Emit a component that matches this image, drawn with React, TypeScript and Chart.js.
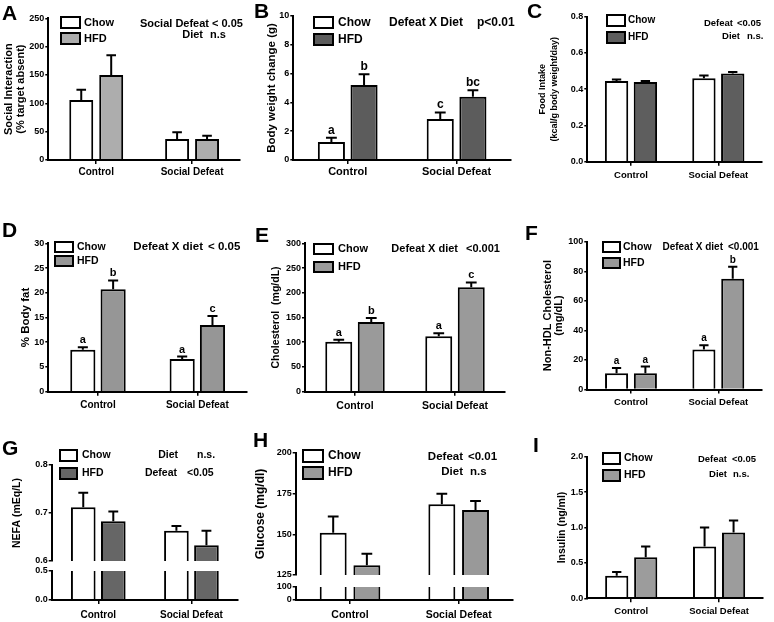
import React, { useEffect, useRef } from 'react';
import { Chart, registerables } from 'chart.js';

Chart.register(...registerables);

const FONT = '"Liberation Sans", Arial, Helvetica, sans-serif';
Chart.defaults.font.family = FONT;
Chart.defaults.color = '#000';

// ---------- data ----------
const categories = ['Control', 'Social Defeat'];
const seriesNames = ['Chow', 'HFD'];

// A: social interaction
const socialTicks = [0, 50, 100, 150, 200, 250];
const socialChow = [106, 37];
const socialChowErr = [18, 12];
const socialHfd = [150, 37];
const socialHfdErr = [35, 6];

// B: body weight change
const weightTicks = [0, 2, 4, 6, 8, 10];
const weightChow = [1.25, 2.85];
const weightChowErr = [0.3, 0.45];
const weightHfd = [5.2, 4.4];
const weightHfdErr = [0.75, 0.45];
const weightChowLetters = ['a', 'c'];
const weightHfdLetters = ['b', 'bc'];

// C: food intake
const foodTicks = [0, 0.2, 0.4, 0.6, 0.8];
const foodChow = [0.445, 0.46];
const foodChowErr = [0.008, 0.016];
const foodHfd = [0.44, 0.486];
const foodHfdErr = [0.005, 0.009];

// D: body fat
const fatTicks = [0, 5, 10, 15, 20, 25, 30];
const fatChow = [8.5, 6.6];
const fatChowErr = [0.5, 0.5];
const fatHfd = [20.7, 13.5];
const fatHfdErr = [1.8, 1.8];
const fatChowLetters = ['a', 'a'];
const fatHfdLetters = ['b', 'c'];

// E: cholesterol
const cholTicks = [0, 50, 100, 150, 200, 250, 300];
const cholChow = [101, 112];
const cholChowErr = [4, 6];
const cholHfd = [141, 211];
const cholHfdErr = [8, 10];
const cholChowLetters = ['a', 'a'];
const cholHfdLetters = ['b', 'c'];

// F: non-HDL cholesterol
const nonHdlTicks = [0, 20, 40, 60, 80, 100];
const nonHdlChow = [11, 27];
const nonHdlChowErr = [3.5, 3];
const nonHdlHfd = [11, 75];
const nonHdlHfdErr = [4.5, 8];
const nonHdlChowLetters = ['a', 'a'];
const nonHdlHfdLetters = ['a', 'b'];

// G: NEFA (broken axis)
const nefaTicks = [0.6, 0.7, 0.8];
const nefaLowerTicks = [0, 0.5];
const nefaChow = [0.712, 0.663];
const nefaChowErr = [0.03, 0.01];
const nefaHfd = [0.683, 0.633];
const nefaHfdErr = [0.02, 0.03];

// H: glucose (broken axis)
const glucoseTicks = [125, 150, 175, 200];
const glucoseLowerTicks = [0, 100];
const glucoseChow = [151, 168.5];
const glucoseChowErr = [10, 6.5];
const glucoseHfd = [131, 165];
const glucoseHfdErr = [7, 5.5];

// I: insulin
const insulinTicks = [0, 0.5, 1, 1.5, 2];
const insulinChow = [0.32, 0.73];
const insulinChowErr = [0.05, 0.27];
const insulinHfd = [0.58, 0.93];
const insulinHfdErr = [0.15, 0.17];

// ---------- panel layout / style ----------
type Note = { text: string; x: number; y: number; right?: boolean };
type Panel = {
  letter: string; letterX: number; letterY: number;
  area: { left: number; top: number; right: number; bottom: number };
  title: string[]; titleSize: number; titleLH: number; titleX: number;
  tickSize: number; catSize: number; catY: number;
  ticks: number[]; lowerTicks?: number[]; weights?: number[]; decimals: number;
  chow: number[]; chowErr: number[]; hfd: number[]; hfdErr: number[];
  chowLetters?: string[]; hfdLetters?: string[]; letterSize?: number;
  hfdColor: string; catPct: number; barPct: number;
  legend: { x: number; y: number; w: number; h: number; step: number; tx: number; size: number };
  notes: Note[]; noteSize: number;
};

const panels: Panel[] = [
  {
    letter: 'A', letterX: 2, letterY: 20,
    area: { left: 48.3, top: 18.3, right: 240, bottom: 160 },
    title: ['Social Interaction', '(% target absent)'], titleSize: 11, titleLH: 1.1, titleX: 9,
    tickSize: 9, catSize: 10, catY: 172, ticks: socialTicks, decimals: 0,
    chow: socialChow, chowErr: socialChowErr, hfd: socialHfd, hfdErr: socialHfdErr,
    hfdColor: '#adadad', catPct: 0.625, barPct: 0.8,
    legend: { x: 61, y: 17, w: 19, h: 11, step: 16, tx: 84, size: 11 },
    notes: [
      { text: 'Social Defeat', x: 209, y: 24, right: true }, { text: '< 0.05', x: 212, y: 24 },
      { text: 'Diet', x: 203, y: 35, right: true }, { text: 'n.s', x: 210, y: 35 },
    ], noteSize: 11,
  },
  {
    letter: 'B', letterX: 254, letterY: 18,
    area: { left: 293.3, top: 16, right: 511, bottom: 160 },
    title: ['Body weight change (g)'], titleSize: 11.5, titleLH: 1.2, titleX: 271.7,
    tickSize: 9, catSize: 11, catY: 172, ticks: weightTicks, decimals: 0,
    chow: weightChow, chowErr: weightChowErr, hfd: weightHfd, hfdErr: weightHfdErr,
    chowLetters: weightChowLetters, hfdLetters: weightHfdLetters, letterSize: 12,
    hfdColor: '#5c5c5c', catPct: 0.6, barPct: 0.83,
    legend: { x: 314, y: 17, w: 19, h: 11, step: 17, tx: 338, size: 12 },
    notes: [{ text: 'Defeat X Diet', x: 463, y: 23, right: true }, { text: 'p<0.01', x: 477, y: 23 }], noteSize: 12,
  },
  {
    letter: 'C', letterX: 527, letterY: 18,
    area: { left: 587.3, top: 16.7, right: 762, bottom: 161.7 },
    title: ['Food Intake', '(kcal/g body weight/day)'], titleSize: 9, titleLH: 1.33, titleX: 543,
    tickSize: 9, catSize: 9.5, catY: 175, ticks: foodTicks, decimals: 1,
    chow: foodChow, chowErr: foodChowErr, hfd: foodHfd, hfdErr: foodHfdErr,
    hfdColor: '#5e5e5e', catPct: 0.66, barPct: 0.81,
    legend: { x: 607, y: 15, w: 18, h: 11, step: 17, tx: 628, size: 10 },
    notes: [
      { text: 'Defeat', x: 733, y: 23, right: true }, { text: '<0.05', x: 737, y: 23 },
      { text: 'Diet', x: 740, y: 36, right: true }, { text: 'n.s.', x: 747, y: 36 },
    ], noteSize: 9.5,
  },
  {
    letter: 'D', letterX: 2, letterY: 237,
    area: { left: 48.3, top: 243.3, right: 247, bottom: 391.7 },
    title: ['% Body fat'], titleSize: 11.5, titleLH: 1.2, titleX: 26,
    tickSize: 9, catSize: 10, catY: 405, ticks: fatTicks, decimals: 0,
    chow: fatChow, chowErr: fatChowErr, hfd: fatHfd, hfdErr: fatHfdErr,
    chowLetters: fatChowLetters, hfdLetters: fatHfdLetters, letterSize: 11,
    hfdColor: '#969696', catPct: 0.61, barPct: 0.83,
    legend: { x: 55, y: 242, w: 18, h: 10, step: 14, tx: 77, size: 10.5 },
    notes: [{ text: 'Defeat X diet', x: 203, y: 247, right: true }, { text: '< 0.05', x: 208, y: 247 }], noteSize: 11.5,
  },
  {
    letter: 'E', letterX: 255, letterY: 242,
    area: { left: 305, top: 243.3, right: 505, bottom: 391.7 },
    title: ['Cholesterol  (mg/dL)'], titleSize: 10.5, titleLH: 1.2, titleX: 276,
    tickSize: 9, catSize: 10.5, catY: 405.7, ticks: cholTicks, decimals: 0,
    chow: cholChow, chowErr: cholChowErr, hfd: cholHfd, hfdErr: cholHfdErr,
    chowLetters: cholChowLetters, hfdLetters: cholHfdLetters, letterSize: 11,
    hfdColor: '#9a9a9a', catPct: 0.65, barPct: 0.83,
    legend: { x: 314, y: 244, w: 19, h: 10, step: 18, tx: 338, size: 11 },
    notes: [{ text: 'Defeat X diet', x: 458, y: 249, right: true }, { text: '<0.001', x: 466, y: 249 }], noteSize: 11,
  },
  {
    letter: 'F', letterX: 525, letterY: 240,
    area: { left: 587.3, top: 241.7, right: 762, bottom: 389.5 },
    title: ['Non-HDL Cholesterol', '(mg/dL)'], titleSize: 11, titleLH: 1.0, titleX: 548,
    tickSize: 9, catSize: 9.5, catY: 402, ticks: nonHdlTicks, decimals: 0,
    chow: nonHdlChow, chowErr: nonHdlChowErr, hfd: nonHdlHfd, hfdErr: nonHdlHfdErr,
    chowLetters: nonHdlChowLetters, hfdLetters: nonHdlHfdLetters, letterSize: 10,
    hfdColor: '#999999', catPct: 0.66, barPct: 0.8,
    legend: { x: 603, y: 242, w: 17, h: 10, step: 16, tx: 623, size: 10.5 },
    notes: [{ text: 'Defeat X diet', x: 723, y: 247, right: true }, { text: '<0.001', x: 728, y: 247 }], noteSize: 10,
  },
  {
    letter: 'G', letterX: 2, letterY: 455,
    area: { left: 51.7, top: 465, right: 238, bottom: 600 },
    title: ['NEFA (mEq/L)'], titleSize: 10.5, titleLH: 1.2, titleX: 17.5,
    tickSize: 9, catSize: 10, catY: 615, ticks: nefaTicks, lowerTicks: nefaLowerTicks, weights: [96, 10, 29], decimals: 1,
    chow: nefaChow, chowErr: nefaChowErr, hfd: nefaHfd, hfdErr: nefaHfdErr,
    hfdColor: '#666666', catPct: 0.645, barPct: 0.82,
    legend: { x: 60, y: 450, w: 17, h: 11, step: 18, tx: 82, size: 10.5 },
    notes: [
      { text: 'Diet', x: 178, y: 455, right: true }, { text: 'n.s.', x: 197, y: 455 },
      { text: 'Defeat', x: 177, y: 473, right: true }, { text: '<0.05', x: 187, y: 473 },
    ], noteSize: 10.5,
  },
  {
    letter: 'H', letterX: 253, letterY: 447,
    area: { left: 295.7, top: 453, right: 513, bottom: 600 },
    title: ['Glucose (mg/dl)'], titleSize: 12, titleLH: 1.2, titleX: 261,
    tickSize: 9, catSize: 10.5, catY: 615, ticks: glucoseTicks, lowerTicks: glucoseLowerTicks, weights: [122, 12, 13], decimals: 0,
    chow: glucoseChow, chowErr: glucoseChowErr, hfd: glucoseHfd, hfdErr: glucoseHfdErr,
    hfdColor: '#999999', catPct: 0.62, barPct: 0.8,
    legend: { x: 303, y: 450, w: 20, h: 12, step: 17, tx: 328, size: 12 },
    notes: [
      { text: 'Defeat', x: 463, y: 457, right: true }, { text: '<0.01', x: 468, y: 457 },
      { text: 'Diet', x: 463, y: 472, right: true }, { text: 'n.s', x: 470, y: 472 },
    ], noteSize: 11.5,
  },
  {
    letter: 'I', letterX: 533, letterY: 452,
    area: { left: 587.3, top: 456.7, right: 763, bottom: 598.3 },
    title: ['Insulin (ng/ml)'], titleSize: 10.5, titleLH: 1.2, titleX: 562,
    tickSize: 9, catSize: 9.5, catY: 611, ticks: insulinTicks, decimals: 1,
    chow: insulinChow, chowErr: insulinChowErr, hfd: insulinHfd, hfdErr: insulinHfdErr,
    hfdColor: '#9c9c9c', catPct: 0.66, barPct: 0.8,
    legend: { x: 603, y: 453, w: 17, h: 11, step: 17, tx: 624, size: 10.5 },
    notes: [
      { text: 'Defeat', x: 727, y: 459, right: true }, { text: '<0.05', x: 732, y: 459 },
      { text: 'Diet', x: 727, y: 474, right: true }, { text: 'n.s.', x: 733, y: 474 },
    ], noteSize: 9.5,
  },
];

const PAGE_W = 774;
const PAGE_H = 622;

const bold = (size: number, lineHeight = 1.2) => ({ family: FONT, size, weight: 'bold' as const, lineHeight });

function makeDecor(p: Panel) {
  return {
    id: 'decor' + p.letter,
    beforeDatasetDraw(chart: any, args: any) {
      const ys = args.meta.yScale;
      const ctx = chart.ctx;
      ctx.save();
      ctx.beginPath();
      ctx.rect(0, ys.top - 1, chart.width, ys.bottom - ys.top + 1);
      ctx.clip();
    },
    afterDatasetDraw(chart: any) {
      chart.ctx.restore();
    },
    afterDatasetsDraw(chart: any) {
      const ctx = chart.ctx;
      chart.data.datasets.forEach((ds: any, di: number) => {
        if (ds.part === 'lower') return;
        const meta = chart.getDatasetMeta(di);
        const ys = meta.yScale;
        meta.data.forEach((el: any, i: number) => {
          const v = ds.data[i];
          const e = ds.errors ? ds.errors[i] : 0;
          const yTop = ys.getPixelForValue(v);
          const yErr = ys.getPixelForValue(v + e);
          const half = el.width * 0.2;
          ctx.save();
          ctx.strokeStyle = '#000';
          ctx.lineWidth = 2;
          ctx.beginPath();
          ctx.moveTo(el.x, yTop);
          ctx.lineTo(el.x, yErr);
          ctx.moveTo(el.x - half, yErr);
          ctx.lineTo(el.x + half, yErr);
          ctx.stroke();
          if (ds.letters) {
            ctx.fillStyle = '#000';
            ctx.font = `bold ${p.letterSize || 11}px ${FONT}`;
            ctx.textAlign = 'center';
            ctx.textBaseline = 'alphabetic';
            ctx.fillText(ds.letters[i], el.x, yErr - 4);
          }
          ctx.restore();
        });
      });
    },
    afterDraw(chart: any) {
      const ctx = chart.ctx;
      ctx.save();
      const L = p.legend;
      const sets = chart.data.datasets.filter((d: any) => d.part !== 'lower');
      sets.forEach((d: any, k: number) => {
        const y = L.y + k * L.step;
        ctx.fillStyle = d.backgroundColor;
        ctx.fillRect(L.x, y, L.w, L.h);
        ctx.strokeStyle = '#000';
        ctx.lineWidth = 2;
        ctx.strokeRect(L.x, y, L.w, L.h);
        ctx.fillStyle = '#000';
        ctx.font = `bold ${L.size}px ${FONT}`;
        ctx.textAlign = 'left';
        ctx.textBaseline = 'middle';
        ctx.fillText(d.label, L.tx, y + L.h / 2);
      });
      ctx.font = `bold ${p.noteSize}px ${FONT}`;
      ctx.textBaseline = 'middle';
      p.notes.forEach((n) => {
        ctx.textAlign = n.right ? 'right' : 'left';
        ctx.fillText(n.text, n.x, n.y);
      });
      ctx.font = `bold 21px ${FONT}`;
      ctx.textAlign = 'left';
      ctx.textBaseline = 'alphabetic';
      ctx.fillText(p.letter, p.letterX, p.letterY);
      ctx.restore();
    },
  };
}

function buildConfig(p: Panel): any {
  const W = p.area.left - (p.titleX - (p.titleSize * p.titleLH) / 2);
  const XH = Math.min(26, PAGE_H - p.area.bottom);
  const fmt = (v: any) => Number(v).toFixed(p.decimals);
  const yAxis = (ticks: number[], extra: any) => ({
    type: 'linear',
    position: 'left',
    min: ticks[0],
    max: ticks[ticks.length - 1],
    stacked: false,
    afterBuildTicks: (s: any) => { s.ticks = ticks.map((v) => ({ value: v })); },
    afterFit: (s: any) => { s.width = W; },
    ticks: { font: bold(p.tickSize), color: '#000', padding: 1, autoSkip: false, callback: fmt },
    grid: { drawOnChartArea: false, drawTicks: true, tickLength: 3, color: '#000', lineWidth: 1.5 },
    border: { display: true, color: '#000', width: 2, z: 1 },
    ...extra,
  });
  const titleOpt = {
    display: true,
    text: p.title.length > 1 ? p.title : p.title[0],
    font: bold(p.titleSize, p.titleLH),
    color: '#000',
    padding: { top: 0, bottom: 0 },
  };
  const broken = !!p.lowerTicks;
  const upperId = broken ? 'yTop' : 'y';
  const mk = (label: string, data: number[], err: number[] | undefined, letters: string[] | undefined, color: string, yAxisID: string, stack?: string, part?: string) => {
    const d: any = {
      label, data, errors: err, letters, part,
      backgroundColor: color, borderColor: '#000', borderWidth: 2,
      categoryPercentage: p.catPct, barPercentage: p.barPct, yAxisID,
    };
    if (stack) d.stack = stack;
    return d;
  };
  const datasets: any[] = [
    mk(seriesNames[0], p.chow, p.chowErr, p.chowLetters, '#ffffff', upperId, broken ? 'chow' : undefined, 'upper'),
    mk(seriesNames[1], p.hfd, p.hfdErr, p.hfdLetters, p.hfdColor, upperId, broken ? 'hfd' : undefined, 'upper'),
  ];
  const scales: any = {
    x: {
      type: 'category',
      offset: true,
      afterFit: (s: any) => { s.height = XH; },
      grid: { offset: false, drawOnChartArea: false, drawTicks: true, tickLength: 4, color: '#000', lineWidth: 1.5 },
      border: { display: true, color: '#000', width: 2, z: 1 },
      ticks: {
        font: bold(p.catSize), color: '#000', maxRotation: 0, autoSkip: false,
        padding: Math.max(0, p.catY - p.area.bottom - 4 - 0.6 * p.catSize),
      },
    },
  };
  if (broken) {
    const w = p.weights || [3, 1, 1];
    datasets.push(mk(seriesNames[0], p.chow, undefined, undefined, '#ffffff', 'yBot', 'chow', 'lower'));
    datasets.push(mk(seriesNames[1], p.hfd, undefined, undefined, p.hfdColor, 'yBot', 'hfd', 'lower'));
    scales.yTop = yAxis(p.ticks, { stack: 'yst', stackWeight: w[0], weight: 3, title: titleOpt });
    scales.yGap = {
      type: 'linear', position: 'left', stack: 'yst', stackWeight: w[1], weight: 2,
      min: 0, max: 1, stacked: false,
      afterFit: (s: any) => { s.width = W; },
      ticks: { display: false }, grid: { display: false }, border: { display: false },
    };
    scales.yBot = yAxis(p.lowerTicks as number[], { stack: 'yst', stackWeight: w[2], weight: 1 });
  } else {
    scales.y = yAxis(p.ticks, { title: titleOpt });
  }
  return {
    type: 'bar',
    data: { labels: categories, datasets },
    options: {
      responsive: false,
      maintainAspectRatio: false,
      animation: false,
      devicePixelRatio: 1,
      events: [],
      layout: {
        padding: {
          left: p.area.left - W,
          top: p.area.top,
          right: PAGE_W - p.area.right,
          bottom: PAGE_H - p.area.bottom - XH,
        },
      },
      plugins: { legend: { display: false }, tooltip: { enabled: false }, title: { display: false } },
      scales,
    },
    plugins: [makeDecor(p)],
  };
}

function PanelChart({ panel }: { panel: Panel }) {
  const ref = useRef<HTMLCanvasElement>(null);
  useEffect(() => {
    if (!ref.current) return;
    const chart = new Chart(ref.current, buildConfig(panel));
    return () => chart.destroy();
  }, [panel]);
  return (
    <canvas
      ref={ref}
      width={PAGE_W}
      height={PAGE_H}
      style={{ position: 'absolute', left: 0, top: 0, width: PAGE_W, height: PAGE_H }}
    />
  );
}

export default function App() {
  return (
    <div style={{ position: 'fixed', left: 0, top: 0, width: PAGE_W, height: PAGE_H, background: '#ffffff', overflow: 'hidden' }}>
      {panels.map((p) => <PanelChart key={p.letter} panel={p} />)}
    </div>
  );
}
